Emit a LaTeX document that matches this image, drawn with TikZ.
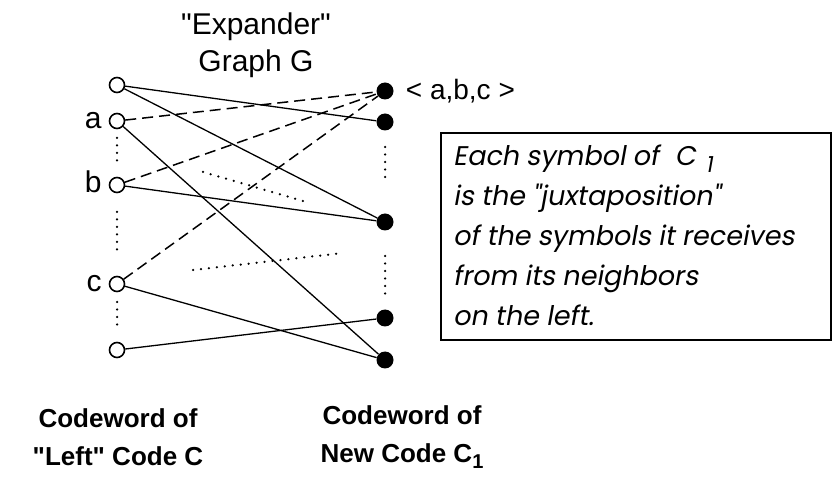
\documentclass[tikz,border=0pt]{standalone}
\usepackage{fontspec}
\setmainfont{Liberation Sans}
\newfontfamily\notefont[FakeSlant=0.18]{Poppins}
\newcommand{\dq}{\textquotedbl}
\begin{document}
\begin{tikzpicture}[x=1pt,y=-1pt,
  lnode/.style={circle,draw,fill=white,line width=1.6pt,minimum size=15pt,inner sep=0pt},
  rnode/.style={circle,fill=black,minimum size=17pt,inner sep=0pt},
  link/.style={line width=1.3pt},
  dlink/.style={line width=1.5pt,dash pattern=on 11pt off 6pt},
  dots/.style={line width=2.5pt,line cap=round,dash pattern=on 0pt off 8pt},
  lab/.style={inner sep=0pt,font=\fontsize{30}{36}\selectfont},
  bold/.style={align=center,inner sep=0pt,font=\bfseries\fontsize{26}{38}\selectfont},
  frame/.style={line width=1.3pt}]
\useasboundingbox (0,0) rectangle (833,486);

% left vertices (code C)
\node (L0) [lnode] at (117,85) {};
\node (La) [lnode] at (117,121) {};
\node (Lb) [lnode] at (117,185) {};
\node (Lc) [lnode] at (117,284) {};
\node (Ld) [lnode] at (117,350) {};

% right vertices (code C_1)
\node (R1) [rnode] at (385,91) {};
\node (R2) [rnode] at (385,122) {};
\node (R3) [rnode] at (385,222) {};
\node (R4) [rnode] at (385,318) {};
\node (R5) [rnode] at (385,360) {};

% edges
\draw[link] (L0) -- (R2);
\draw[link] (L0) -- (R3);
\draw[link] (La) -- (R5);
\draw[link] (Lb) -- (R3);
\draw[link] (Lc) -- (R5);
\draw[link] (Ld) -- (R4);
\draw[dlink] (La) -- (R1);
\draw[dlink] (Lb) -- (R1);
\draw[dlink] (Lc) -- (R1);

% elided edges
\coordinate (e1s) at (203,172); \coordinate (e1t) at (310,203);
\coordinate (e2s) at (193,270); \coordinate (e2t) at (343,253);
\draw[dots] (e1s) -- (e1t);
\draw[dots] (e2s) -- (e2t);

% elided vertices
\coordinate (v1s) at (117,138); \coordinate (v1t) at (117,162);
\coordinate (v2s) at (117,212); \coordinate (v2t) at (117,254);
\coordinate (v3s) at (117,302); \coordinate (v3t) at (117,326);
\coordinate (w1s) at (385,147); \coordinate (w1t) at (385,180);
\coordinate (w2s) at (385,256); \coordinate (w2t) at (385,295);
\foreach \s/\t in {v1s/v1t,v2s/v2t,v3s/v3t,w1s/w1t,w2s/w2t}
  \draw[dots,dash pattern=on 0pt off 7.5pt] (\s) -- (\t);

% labels
\node (title) [lab,align=center,font=\fontsize{30}{37}\selectfont] at (256,45) {\dq Expander\dq\\Graph G};
\node (labA) [lab,anchor=base east] at ([xshift=-7pt,yshift=-8pt]La.west) {a};
\node (labB) [lab,anchor=base east] at ([xshift=-7pt,yshift=-8pt]Lb.west) {b};
\node (labC) [lab,anchor=base east] at ([xshift=-7pt,yshift=-8pt]Lc.west) {c};
\node (tuple) [lab,anchor=base west,font=\fontsize{28}{34}\selectfont] at ([xshift=12pt,yshift=-9pt]R1.east) {< a,b,c >};

% explanation box
\draw[frame] (441,133) rectangle (831,340);
\node (note) [anchor=north west,align=left,inner sep=0pt,
  font=\notefont\fontsize{27}{40}\selectfont] at (453,145)
  {Each symbol of\hspace{16pt}C\hspace{10pt}\raisebox{-7pt}{\fontsize{22}{22}\selectfont 1}\\
   is the "juxtaposition"\\
   of the symbols it receives\\
   from its neighbors\\
   on the left.};

% column captions
\node (capL) [bold] at (118,437) {Codeword of\\\dq Left\dq{} Code C};
\node (capR) [bold] at (402,437) {Codeword of\\New Code C\raisebox{-6pt}{\fontsize{20}{20}\selectfont 1}};
\end{tikzpicture}
\end{document}
